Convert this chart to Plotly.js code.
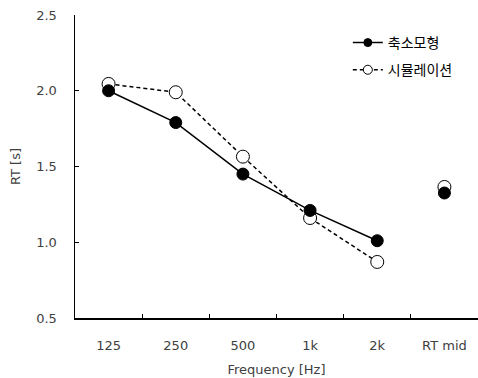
<!DOCTYPE html>
<html><head><meta charset="utf-8">
<script src="https://cdn.plot.ly/plotly-3.0.1.min.js"></script>
<style>body{margin:0;background:#fff}#c{width:478px;height:378px}</style>
</head><body><div id="c"></div>
<script>
const categories = ['125','250','500','1k','2k','RT mid'];
const bandCats = ['125','250','500','1k','2k'];
const modelValues = [2.0, 1.79, 1.45, 1.21, 1.01];
const simValues = [2.045, 1.99, 1.565, 1.16, 0.87];
const modelRTmid = [1.325];
const simRTmid = [1.365];
const seriesNames = ['축소모형','시뮬레이션'];
const yTicks = [0.5, 1.0, 1.5, 2.0, 2.5];

const fontNum = 'DejaVu Sans, sans-serif';
const fontKr = 'Noto Sans CJK KR, sans-serif';

const traces = [
  {x: bandCats, y: simValues, name: seriesNames[1], mode:'lines+markers', showlegend:false,
   line:{color:'#000', width:1.5, dash:'4px,3px'},
   marker:{symbol:'circle', size:13, color:'#fff', line:{color:'#000', width:1}}},
  {x: bandCats, y: modelValues, name: seriesNames[0], mode:'lines+markers', showlegend:false,
   line:{color:'#000', width:1.5},
   marker:{symbol:'circle', size:12, color:'#000', line:{color:'#000', width:1}}},
  {x: ['RT mid'], y: simRTmid, mode:'markers', showlegend:false,
   marker:{symbol:'circle', size:13, color:'#fff', line:{color:'#000', width:1}}},
  {x: ['RT mid'], y: modelRTmid, mode:'markers', showlegend:false,
   marker:{symbol:'circle', size:12, color:'#000', line:{color:'#000', width:1}}},
  // legend entries (same styles, smaller symbols)
  {x: [null], y: [null], name: seriesNames[0], mode:'lines+markers', legend:'legend',
   line:{color:'#000', width:1.5},
   marker:{symbol:'circle', size:8, color:'#000', line:{color:'#000', width:1}}},
  {x: [null], y: [null], name: seriesNames[1], mode:'lines+markers', legend:'legend2',
   line:{color:'#000', width:1.5, dash:'4px,3px'},
   marker:{symbol:'circle', size:9, color:'#fff', line:{color:'#000', width:1}}}
];

const layout = {
  width:478, height:378,
  margin:{l:75, r:0, t:15, b:60},
  paper_bgcolor:'#fff', plot_bgcolor:'#fff',
  font:{family:fontNum, color:'#404040', size:13},
  xaxis:{type:'category', categoryorder:'array', categoryarray:categories,
    range:[-0.5, 5.5], tickson:'boundaries', ticks:'inside', ticklen:4, tickcolor:'#000',
    showline:true, linecolor:'#000', linewidth:1.5, showgrid:false, zeroline:false,
    ticklabelstandoff:15, tickfont:{size:13, color:'#404040'},
    title:{text:'Frequency [Hz]', font:{size:13, color:'#404040'}, standoff:13}},
  yaxis:{range:[0.5, 2.5], tickvals:yTicks, ticktext:yTicks.map(v=>v.toFixed(1)),
    ticks:'inside', ticklen:4, tickcolor:'#000',
    showline:true, linecolor:'#000', linewidth:1.5, showgrid:false, zeroline:false,
    ticklabelstandoff:14, tickfont:{size:13, color:'#404040'},
    title:{text:'RT [s]', font:{size:13, color:'#404040'}, standoff:12}},
  legend:{x:0.677, y:0.9076, xanchor:'left', yanchor:'middle', bgcolor:'rgba(0,0,0,0)',
    font:{family:fontKr, size:14, color:'#000'}, itemwidth:30},
  legend2:{x:0.677, y:0.818, xanchor:'left', yanchor:'middle', bgcolor:'rgba(0,0,0,0)',
    font:{family:fontKr, size:14, color:'#000'}, itemwidth:30},
  showlegend:true
};
Plotly.newPlot('c', traces, layout, {displayModeBar:false, staticPlot:true});
</script></body></html>
